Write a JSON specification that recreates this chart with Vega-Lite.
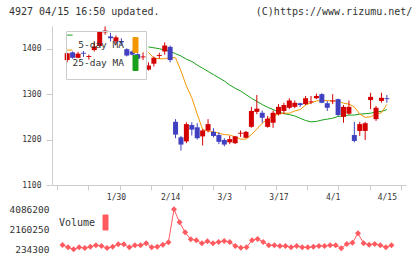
{
  "$schema": "https://vega.github.io/schema/vega-lite/v6.json",
  "background": "white",
  "padding": {"left": 8, "top": 6, "right": 4, "bottom": 2},
  "title": {
    "text": "4927 04/15 16:50 updated.\u00a0\u00a0\u00a0\u00a0\u00a0\u00a0\u00a0\u00a0\u00a0\u00a0\u00a0\u00a0\u00a0\u00a0\u00a0\u00a0(C)https://www.rizumu.net/",
    "anchor": "start",
    "frame": "bounds",
    "font": "DejaVu Sans Mono",
    "fontSize": 10,
    "fontWeight": "normal",
    "color": "#333333",
    "offset": 9
  },
  "data": {
    "values": [
      {"d": "1/17", "i": 0, "o": 1375, "h": 1391, "l": 1370, "c": 1390, "v": 648000, "m5": 1397, "m25": 1430},
      {"d": "1/20", "i": 1, "o": 1392, "h": 1394, "l": 1378, "c": 1380, "v": 427000, "m5": 1397, "m25": 1430},
      {"d": "1/21", "i": 2, "o": 1380, "h": 1393, "l": 1379, "c": 1389, "v": 234300, "m5": null, "m25": null},
      {"d": "1/22", "i": 3, "o": 1391, "h": 1395, "l": 1382, "c": 1389, "v": 427000, "m5": null, "m25": null},
      {"d": "1/23", "i": 4, "o": 1382, "h": 1387, "l": 1376, "c": 1384, "v": 360000, "m5": null, "m25": null},
      {"d": "1/24", "i": 5, "o": 1397, "h": 1414, "l": 1394, "c": 1405, "v": 490000, "m5": null, "m25": null},
      {"d": "1/27", "i": 6, "o": 1406, "h": 1438, "l": 1405, "c": 1437, "v": 620000, "m5": null, "m25": null},
      {"d": "1/28", "i": 7, "o": 1436, "h": 1449, "l": 1431, "c": 1440, "v": 552000, "m5": null, "m25": null},
      {"d": "1/29", "i": 8, "o": 1427, "h": 1435, "l": 1416, "c": 1423, "v": 360000, "m5": null, "m25": null},
      {"d": "1/30", "i": 9, "o": 1416, "h": 1429, "l": 1409, "c": 1425, "v": 490000, "m5": null, "m25": null},
      {"d": "1/31", "i": 10, "o": 1417, "h": 1423, "l": 1408, "c": 1414, "v": 716000, "m5": null, "m25": null},
      {"d": "2/3", "i": 11, "o": 1399, "h": 1401, "l": 1383, "c": 1385, "v": 716000, "m5": null, "m25": null},
      {"d": "2/4", "i": 12, "o": 1394, "h": 1396, "l": 1385, "c": 1387, "v": 427000, "m5": null, "m25": null},
      {"d": "2/5", "i": 13, "o": 1388, "h": 1390, "l": 1375, "c": 1378, "v": 620000, "m5": null, "m25": null},
      {"d": "2/6", "i": 14, "o": 1381, "h": 1392, "l": 1375, "c": 1383, "v": 620000, "m5": null, "m25": null},
      {"d": "2/7", "i": 15, "o": 1354, "h": 1370, "l": 1352, "c": 1363, "v": 812000, "m5": 1392, "m25": 1404},
      {"d": "2/10", "i": 16, "o": 1367, "h": 1383, "l": 1361, "c": 1380, "v": 427000, "m5": 1379, "m25": 1402},
      {"d": "2/12", "i": 17, "o": 1384, "h": 1391, "l": 1378, "c": 1386, "v": 490000, "m5": 1378, "m25": 1400},
      {"d": "2/13", "i": 18, "o": 1394, "h": 1414, "l": 1387, "c": 1407, "v": 680000, "m5": 1378, "m25": 1397},
      {"d": "2/14", "i": 19, "o": 1404, "h": 1407, "l": 1370, "c": 1375, "v": 908000, "m5": 1381, "m25": 1394},
      {"d": "2/17", "i": 20, "o": 1239, "h": 1245, "l": 1203, "c": 1211, "v": 4086200, "m5": 1380, "m25": 1389},
      {"d": "2/18", "i": 21, "o": 1205, "h": 1208, "l": 1176, "c": 1189, "v": 2830000, "m5": 1351, "m25": 1384},
      {"d": "2/19", "i": 22, "o": 1196, "h": 1238, "l": 1192, "c": 1234, "v": 1870000, "m5": 1318, "m25": 1377},
      {"d": "2/20", "i": 23, "o": 1232, "h": 1238, "l": 1209, "c": 1222, "v": 1200000, "m5": 1292, "m25": 1372},
      {"d": "2/21", "i": 24, "o": 1227, "h": 1236, "l": 1200, "c": 1203, "v": 1100000, "m5": 1256, "m25": 1364},
      {"d": "2/25", "i": 25, "o": 1207, "h": 1223, "l": 1187, "c": 1220, "v": 812000, "m5": 1222, "m25": 1357},
      {"d": "2/26", "i": 26, "o": 1220, "h": 1245, "l": 1216, "c": 1234, "v": 1000000, "m5": 1219, "m25": 1350},
      {"d": "2/27", "i": 27, "o": 1217, "h": 1225, "l": 1205, "c": 1208, "v": 812000, "m5": 1217, "m25": 1343},
      {"d": "2/28", "i": 28, "o": 1210, "h": 1216, "l": 1190, "c": 1195, "v": 937000, "m5": 1214, "m25": 1336},
      {"d": "3/3", "i": 29, "o": 1199, "h": 1203, "l": 1185, "c": 1189, "v": 1030000, "m5": 1211, "m25": 1329},
      {"d": "3/4", "i": 30, "o": 1194, "h": 1208, "l": 1190, "c": 1201, "v": 937000, "m5": 1210, "m25": 1320},
      {"d": "3/5", "i": 31, "o": 1192, "h": 1208, "l": 1190, "c": 1207, "v": 552000, "m5": 1206, "m25": 1313},
      {"d": "3/6", "i": 32, "o": 1213, "h": 1220, "l": 1206, "c": 1215, "v": 390000, "m5": 1201, "m25": 1307},
      {"d": "3/7", "i": 33, "o": 1204, "h": 1219, "l": 1203, "c": 1217, "v": 427000, "m5": 1201, "m25": 1299},
      {"d": "3/10", "i": 34, "o": 1228, "h": 1272, "l": 1226, "c": 1263, "v": 1100000, "m5": 1211, "m25": 1291},
      {"d": "3/11", "i": 35, "o": 1261, "h": 1298, "l": 1256, "c": 1268, "v": 1230000, "m5": 1223, "m25": 1284},
      {"d": "3/12", "i": 36, "o": 1259, "h": 1264, "l": 1237, "c": 1248, "v": 937000, "m5": 1236, "m25": 1277},
      {"d": "3/13", "i": 37, "o": 1228, "h": 1252, "l": 1226, "c": 1246, "v": 620000, "m5": 1245, "m25": 1271},
      {"d": "3/14", "i": 38, "o": 1237, "h": 1264, "l": 1226, "c": 1259, "v": 620000, "m5": 1252, "m25": 1266},
      {"d": "3/17", "i": 39, "o": 1256, "h": 1278, "l": 1253, "c": 1272, "v": 552000, "m5": 1256, "m25": 1261},
      {"d": "3/18", "i": 40, "o": 1263, "h": 1281, "l": 1256, "c": 1276, "v": 552000, "m5": 1258, "m25": 1257},
      {"d": "3/19", "i": 41, "o": 1270, "h": 1291, "l": 1267, "c": 1286, "v": 427000, "m5": 1258, "m25": 1255},
      {"d": "3/21", "i": 42, "o": 1272, "h": 1286, "l": 1269, "c": 1281, "v": 552000, "m5": 1263, "m25": 1252},
      {"d": "3/24", "i": 43, "o": 1280, "h": 1281, "l": 1272, "c": 1276, "v": 427000, "m5": 1266, "m25": 1247},
      {"d": "3/25", "i": 44, "o": 1278, "h": 1296, "l": 1276, "c": 1291, "v": 427000, "m5": 1276, "m25": 1242},
      {"d": "3/26", "i": 45, "o": 1282, "h": 1296, "l": 1278, "c": 1284, "v": 490000, "m5": 1281, "m25": 1239},
      {"d": "3/27", "i": 46, "o": 1291, "h": 1301, "l": 1289, "c": 1296, "v": 552000, "m5": 1285, "m25": 1240},
      {"d": "3/28", "i": 47, "o": 1300, "h": 1302, "l": 1280, "c": 1281, "v": 552000, "m5": 1286, "m25": 1243},
      {"d": "3/31", "i": 48, "o": 1280, "h": 1285, "l": 1263, "c": 1270, "v": 620000, "m5": 1286, "m25": 1245},
      {"d": "4/1", "i": 49, "o": 1284, "h": 1300, "l": 1278, "c": 1286, "v": 620000, "m5": 1285, "m25": 1247},
      {"d": "4/2", "i": 50, "o": 1289, "h": 1290, "l": 1252, "c": 1254, "v": 330000, "m5": 1285, "m25": 1251},
      {"d": "4/3", "i": 51, "o": 1250, "h": 1276, "l": 1237, "c": 1272, "v": 745000, "m5": 1280, "m25": 1252},
      {"d": "4/4", "i": 52, "o": 1257, "h": 1286, "l": 1255, "c": 1272, "v": 870000, "m5": 1278, "m25": 1254},
      {"d": "4/7", "i": 53, "o": 1210, "h": 1239, "l": 1194, "c": 1197, "v": 1770000, "m5": 1272, "m25": 1254},
      {"d": "4/8", "i": 54, "o": 1219, "h": 1239, "l": 1208, "c": 1234, "v": 812000, "m5": 1256, "m25": 1256},
      {"d": "4/9", "i": 55, "o": 1219, "h": 1239, "l": 1199, "c": 1236, "v": 680000, "m5": 1249, "m25": 1257},
      {"d": "4/10", "i": 56, "o": 1287, "h": 1303, "l": 1267, "c": 1294, "v": 745000, "m5": 1250, "m25": 1258},
      {"d": "4/11", "i": 57, "o": 1245, "h": 1274, "l": 1241, "c": 1270, "v": 620000, "m5": 1256, "m25": 1261},
      {"d": "4/14", "i": 58, "o": 1285, "h": 1303, "l": 1281, "c": 1292, "v": 427000, "m5": 1259, "m25": 1262},
      {"d": "4/15", "i": 59, "o": 1291, "h": 1298, "l": 1281, "c": 1289, "v": 620000, "m5": 1277, "m25": 1266}
    ]
  },
  "spacing": 3,
  "resolve": {"scale": {"color": "independent"}, "legend": {"color": "independent"}},
  "vconcat": [
    {
      "width": 354,
      "height": 159,
      "encoding": {
        "x": {
          "field": "i",
          "type": "quantitative",
          "scale": {"domain": [-1.88, 61.61], "nice": false, "zero": false},
          "axis": {
            "values": [-1.88, 3.892, 9.664, 15.435, 21.207, 26.979, 32.751, 38.523, 44.294, 50.066, 55.838, 61.61, 9, 19, 29, 39, 49, 59],
            "labelExpr": "datum.value == 9 ? '1/30' : datum.value == 19 ? '2/14' : datum.value == 29 ? '3/3' : datum.value == 39 ? '3/17' : datum.value == 49 ? '4/1' : datum.value == 59 ? '4/15' : ''",
            "tickOpacity": {"condition": {"test": "datum.value % 1 === 0", "value": 0}, "value": 1},
            "tickSize": 5,
            "labelPadding": 3,
            "labelFlush": false,
            "labelOverlap": false,
            "labelBound": false,
            "title": null,
            "grid": false
          }
        }
      },
      "layer": [
        {
          "mark": {"type": "line", "strokeWidth": 1},
          "encoding": {
            "y": {
              "field": "m25",
              "type": "quantitative",
              "scale": {"domain": [1100, 1450], "nice": false, "zero": false},
              "axis": {"values": [1100, 1200, 1300, 1400], "format": "d", "tickSize": 6, "labelPadding": 5, "title": null, "grid": false}
            },
            "color": {
              "datum": "25-day MA",
              "scale": {"domain": ["5-day MA", "25-day MA"], "range": ["#f39800", "#1aa01a"]},
              "legend": {
                "orient": "none",
                "legendX": 14,
                "legendY": 5,
                "title": null,
                "direction": "vertical",
                "symbolType": "M-0.333,-1H0.333V1H-0.333Z",
                "symbolSize": 225,
                "symbolStrokeWidth": 1,
                "symbolOffset": 55.5,
                "labelAlign": "right",
                "labelOffset": -19.5,
                "labelFont": "DejaVu Sans Mono",
                "labelFontSize": 9.5,
                "labelColor": "#333333",
                "padding": 6,
                "rowPadding": -2,
                "strokeColor": "#cccccc",
                "encoding": {
                  "symbols": {
                    "fill": {"value": {"expr": "datum.value === '5-day MA' ? '#f39800' : '#1aa01a'"}},
                    "stroke": {"value": "#333333"},
                    "strokeWidth": {"value": 1},
                    "opacity": {"value": 1}
                  }
                }
              }
            }
          }
        },
        {
          "mark": {"type": "line", "strokeWidth": 1},
          "encoding": {
            "y": {"field": "m5", "type": "quantitative"},
            "color": {"datum": "5-day MA"}
          }
        },
        {
          "mark": {"type": "rule", "strokeWidth": 1},
          "encoding": {
            "y": {"field": "l", "type": "quantitative"},
            "y2": {"field": "h"},
            "stroke": {"condition": {"test": "datum.c >= datum.o", "value": "#d40000"}, "value": "#4040c0"}
          }
        },
        {
          "mark": {"type": "bar", "width": 5},
          "encoding": {
            "y": {"field": "o", "type": "quantitative"},
            "y2": {"field": "c"},
            "fill": {"condition": {"test": "datum.c >= datum.o", "value": "#d40000"}, "value": "#4040c0"}
          }
        }
      ]
    },
    {
      "width": 354,
      "height": 48,
      "mark": {"type": "line", "strokeWidth": 1, "point": {"shape": "diamond", "size": 36, "filled": true, "opacity": 1}},
      "encoding": {
        "x": {"field": "i", "type": "quantitative", "scale": {"domain": [-1.88, 61.61], "nice": false, "zero": false}, "axis": null},
        "y": {
          "field": "v",
          "type": "quantitative",
          "scale": {"domain": [-122000, 4500000], "nice": false, "zero": false},
          "axis": {"values": [234300, 2160250, 4086200], "format": "d", "domain": false, "ticks": false, "grid": false, "title": null, "labelFontSize": 9.5, "labelPadding": 3}
        },
        "color": {
          "datum": "Volume",
          "scale": {"domain": ["Volume"], "range": ["#ff5a5f"]},
          "legend": {
            "orient": "none",
            "legendX": 7,
            "legendY": 9.5,
            "title": null,
            "symbolType": "M-0.333,-1H0.333V1H-0.333Z",
            "symbolSize": 225,
            "symbolOffset": 38.5,
            "labelAlign": "right",
            "labelOffset": -18.5,
            "labelFont": "DejaVu Sans Mono",
            "labelFontSize": 10,
            "labelColor": "#333333",
            "padding": 0,
            "encoding": {
              "symbols": {
                "fill": {"value": "#ff5a5f"},
                "stroke": {"value": "#333333"},
                "strokeWidth": {"value": 1},
                "opacity": {"value": 1}
              }
            }
          }
        }
      }
    }
  ],
  "config": {
    "font": "DejaVu Sans Mono",
    "view": {"stroke": null},
    "axis": {
      "domainColor": "#cccccc",
      "tickColor": "#cccccc",
      "domainWidth": 1,
      "tickWidth": 1,
      "labelFont": "DejaVu Sans Mono",
      "labelFontSize": 8,
      "labelColor": "#333333"
    }
  }
}
